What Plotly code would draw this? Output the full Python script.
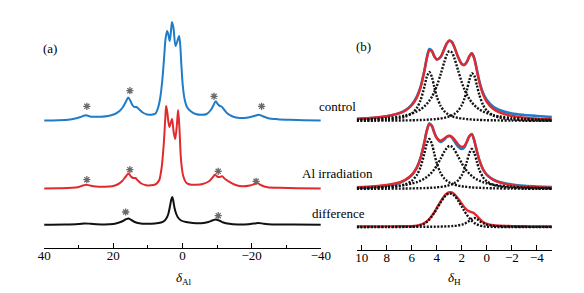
import plotly.graph_objects as go

# ---------------- panel (a): 27Al spectra (ppm, intensity above own baseline) ----------------
al_ctrl_ppm = [40, 36, 33, 31, 29.5, 28.3, 27.6, 26.8, 25.5, 23.5, 21.5, 19.5, 18.2, 17.2, 16.4, 15.7, 15.1,
               14.5, 13.9, 13.3, 12.5, 11.5, 10.2, 9.0, 7.8, 7.0, 6.4, 5.8, 5.3, 4.9, 4.44, 4.05, 3.7, 3.35,
               3.03, 2.6, 2.02, 1.55, 1.3, 0.98, 0.65, 0.3, -0.1, -0.6, -1.3, -2.3, -3.8, -5.5, -7.0, -8.2,
               -9.0, -9.6, -10.3, -10.8, -11.3, -12.0, -13.0, -14.5, -16.5, -19.0, -20.8, -22.0, -23.2,
               -24.8, -27.5, -31, -35, -40]
al_ctrl_int = [0.5, 0.8, 1.3, 2.5, 4, 5.5, 5.6, 4.5, 4.2, 4.3, 5, 7, 10, 14, 19, 23.5, 20.5,
               16, 14, 14, 11.5, 8.5, 6.5, 6.2, 7.5, 14, 24, 42, 64, 82, 90, 86, 80, 89,
               99, 93, 75, 79, 82, 85, 76, 55, 35, 22, 14, 10, 7, 6.2, 7, 11,
               16, 19.7, 16.5, 15, 14.5, 11.5, 7.5, 4.5, 3, 3.5, 5, 6.3, 4.8,
               2.8, 1.8, 1.2, 0.8, 0.5]

al_irr_ppm = [40, 36, 32, 30, 28.8, 27.8, 26.8, 25, 22.5, 20.3, 18.8, 17.5, 16.5, 15.6, 14.9, 14.3, 13.6,
              12.9, 11.9, 10.5, 9.1, 7.9, 7.2, 6.7, 6.04, 5.39, 4.95, 4.72, 4.4, 3.79, 3.03, 2.55, 2.1,
              1.6, 1.26, 0.9, 0.42, -0.22, -1.18, -2.5, -4.0, -5.8, -7.7, -8.7, -9.4, -10.2, -10.8,
              -11.45, -12.3, -13.3, -15, -17.1, -19.5, -20.8, -21.6, -22.6, -24.6, -28, -33, -40]
al_irr_int = [0.5, 0.8, 1.2, 2, 3.5, 4.3, 3.5, 2.5, 2.3, 2.8, 4.5, 7.7, 12, 15.5, 12.5, 11, 11,
              8.5, 5.5, 3.8, 3.7, 4.5, 6.5, 9, 21, 46, 72, 83, 77, 62, 70, 57, 50,
              65, 79, 62, 29, 13, 6, 4.3, 4.3, 5, 7.7, 11.5, 14.3, 12, 12,
              12.7, 10, 7.7, 4.5, 2.7, 3.5, 5, 6, 4, 1.7, 1.2, 0.8, 0.5]

al_diff_ppm = [40, 34, 30, 28.3, 26.5, 23, 20, 18.3, 17.2, 16.3, 15.6, 14.8, 13.8, 12.5, 10.5, 8, 6.2,
               5.3, 4.6, 4.1, 3.6, 3.2, 2.95, 2.7, 2.3, 1.8, 1.2, 0.4, -1, -3, -5.5, -7.5, -8.6, -9.6,
               -10.6, -11.8, -13.5, -16, -19, -21, -22, -23.5, -26, -32, -40]
al_diff_int = [0.3, 0.5, 1, 1.6, 1.2, 0.6, 1, 2.5, 4, 5.8, 6.5, 5, 3, 1.8, 1.2, 1.5, 2.5,
               4, 7, 11, 19, 26, 28, 25, 17, 11, 7, 4.5, 3, 2, 1.8, 3, 4.5, 5.6,
               4.5, 2.5, 1.2, 0.6, 0.8, 1.6, 2, 1.3, 0.6, 0.4, 0.3]

# spinning sidebands (asterisks): ppm and height above each trace's baseline
sb_ctrl_ppm = [27.65, 15.21, -9.12, -22.88]
sb_ctrl_h = [14.7, 30.3, 24.7, 14.7]
sb_irr_ppm = [27.65, 15.21, -10.33, -21.28]
sb_irr_h = [9.3, 19.3, 17.7, 7.7]
sb_diff_ppm = [16.42, -10.33]
sb_diff_h = [13.0, 9.3]

# ---------------- panel (b): 1H spectra with fitted components ----------------
h_ppm = [10.4, 9, 8, 7, 6.5, 6, 5.6, 5.3, 5.0, 4.8, 4.6, 4.4, 4.2, 4.0, 3.7, 3.4, 3.2, 3.0, 2.8, 2.6,
         2.3, 2.0, 1.8, 1.6, 1.4, 1.2, 1.0, 0.8, 0.6, 0.3, 0.0, -0.5, -1, -2, -3, -4, -5.2]

h_ctrl_fit1 = [0.5, 0.9, 1.5, 2.9, 4.4, 7.6, 13, 20.8, 33.9, 44.1, 49, 44.1, 33.9, 24.5, 15.1, 9.8, 7.6, 6,
               4.9, 4, 3.1, 2.5, 2.2, 1.9, 1.7, 1.5, 1.3, 1.2, 1.1, 0.9, 0.8, 0.7, 0.6, 0.4, 0.3, 0.2, 0.2]
h_ctrl_fit2 = [1.4, 2.1, 2.9, 4.4, 5.6, 7.4, 9.5, 11.6, 14.6, 17.1, 20.2, 24.1, 29, 35, 46.4, 59.1, 66.2,
               69.8, 68.6, 63, 50.6, 38.5, 31.8, 26.4, 22, 18.5, 15.7, 13.5, 11.6, 9.5, 7.9, 5.9, 4.6, 3,
               2.1, 1.6, 1.1]
h_ctrl_fit3 = [0.2, 0.3, 0.4, 0.5, 0.6, 0.7, 0.9, 1, 1.1, 1.3, 1.4, 1.6, 1.8, 2, 2.5, 3.2, 3.8, 4.6, 5.6,
               7, 10.3, 16, 22.1, 30.7, 40.9, 47.7, 45.2, 35.8, 26.1, 16, 10.3, 5.6, 3.5, 1.7, 1, 0.6, 0.4]
h_ctrl_sum = [2.1, 3.2, 4.8, 7.8, 10.6, 15.7, 23.4, 33.4, 49.6, 62.5, 70.6, 69.8, 64.7, 61.5, 64, 72.1,
              77.6, 80.4, 79.1, 74, 64, 57, 56.1, 59, 64.6, 67.7, 62.2, 50.5, 38.8, 26.4, 19, 12.2, 8.7,
              5.1, 3.4, 2.4, 1.7]
h_ctrl_exp = [2.1, 3.2, 4.8, 7.8, 10.8, 16.5, 24.5, 34, 50, 63, 72, 70.5, 64.7, 61.5, 64, 72.1,
              77.6, 80.4, 79.1, 74, 64, 57, 56.1, 59, 64.6, 67.7, 62.5, 51.5, 40, 28, 21, 14.5, 11,
              7.5, 6, 5, 4]

h_irr_fit1 = [0.6, 1, 1.6, 3.1, 4.8, 8.2, 13.9, 22, 35.3, 45.3, 50, 45.3, 35.3, 25.8, 16.1, 10.5, 8.2, 6.5,
              5.3, 4.4, 3.4, 2.7, 2.3, 2.1, 1.8, 1.6, 1.4, 1.3, 1.2, 1, 0.9, 0.7, 0.6, 0.4, 0.3, 0.3, 0.2]
h_irr_fit2 = [1, 1.5, 2.1, 3.2, 4.1, 5.4, 6.8, 8.3, 10.3, 12, 14.1, 16.6, 19.7, 23.4, 30.2, 37.3, 41.1, 43,
              42.3, 39.4, 32.6, 25.6, 21.5, 18.1, 15.3, 13, 11.1, 9.6, 8.3, 6.8, 5.7, 4.3, 3.4, 2.2, 1.6,
              1.2, 0.8]
h_irr_fit3 = [0.2, 0.2, 0.3, 0.4, 0.5, 0.6, 0.7, 0.8, 0.9, 1, 1.1, 1.3, 1.4, 1.7, 2, 2.6, 3.1, 3.8, 4.7,
              5.9, 8.7, 13.8, 19.3, 27.1, 35.7, 40, 35.7, 27.1, 19.3, 11.7, 7.6, 4.2, 2.6, 1.3, 0.8, 0.5,
              0.3]
h_irr_sum = [1.7, 2.7, 4, 6.7, 9.4, 14.1, 21.4, 31.1, 46.5, 58.3, 65.2, 63.2, 56.4, 50.9, 48.3, 50.4, 52.4,
             53.3, 52.3, 49.7, 44.7, 42.1, 43.1, 47.3, 52.8, 54.6, 48.2, 38, 28.8, 19.5, 14.2, 9.2, 6.6,
             3.9, 2.6, 1.9, 1.4]
h_irr_exp = [1, 2, 3.2, 6, 9, 14, 21.4, 31.1, 46.5, 58.3, 65.5, 63.2, 56.4, 50.9, 47, 49.5, 52, 53,
             51.5, 48, 42.5, 40, 41.5, 47, 52.8, 55, 48.2, 38, 28.8, 19.5, 14.2, 9.5, 7,
             4.5, 3.2, 2.5, 2]

h_diff_fit1 = [0, 0, 0, 0, 0.1, 0.2, 0.7, 1.6, 3.3, 5, 7.4, 10.5, 14.1, 18.2, 24.5, 30, 32.4, 33.5, 33.1,
               31.3, 26.5, 20.3, 16.1, 12.2, 8.9, 6.1, 4.1, 2.6, 1.6, 0.7, 0.3, 0.1, 0, 0, 0, 0, 0]
h_diff_fit2 = [0, 0.1, 0.1, 0.1, 0.1, 0.1, 0.2, 0.2, 0.2, 0.2, 0.3, 0.3, 0.3, 0.4, 0.4, 0.5, 0.6, 0.7, 0.9,
               1.1, 1.6, 2.4, 3.2, 4.5, 6.2, 8.1, 9, 8.1, 6.2, 3.8, 2.4, 1.2, 0.7, 0.4, 0.2, 0.1, 0.1]
h_diff_sum = [0.5, 0.5, 0.6, 0.7, 0.8, 0.8, 1.4, 2.3, 4, 5.7, 8.2, 11.3, 14.9, 19.1, 25.4, 31, 33.5, 34.7,
              34.5, 32.9, 28.6, 23.2, 19.8, 17.2, 15.6, 14.7, 13.6, 11.2, 8.3, 5, 3.2, 1.7, 1.2, 0.9, 0.7,
              0.6, 0.6]

# ---------------- tick labels and text ----------------
al_ticks = [40, 20, 0, -20, -40]
al_ticktext = ["40", "20", "0", "\u221220", "\u221240"]
al_minor = [30, 10, -10, -30]
h_ticks = [10, 8, 6, 4, 2, 0, -2, -4]
h_ticktext = ["10", "8", "6", "4", "2", "0", "\u22122", "\u22124"]
row_labels = ["control", "Al irradiation", "difference"]

# ---------------- style / layout constants ----------------
BLUE = "#1E7CC8"
RED = "#E02A2E"
BLACK = "#111111"
STAR = "#6a6a6a"
FONT = "Liberation Serif, Times New Roman, serif"
W, H = 584, 293
off_a = [127, 59, 23]   # baselines of the three rows in panel (a)
off_b = [129, 61, 23]   # baselines of the three rows in panel (b)


def shift(vals, off):
    return [v + off for v in vals]


fig = go.Figure()

# panel (a)
for ppm, inten, col, off in [(al_ctrl_ppm, al_ctrl_int, BLUE, off_a[0]),
                             (al_irr_ppm, al_irr_int, RED, off_a[1]),
                             (al_diff_ppm, al_diff_int, BLACK, off_a[2])]:
    fig.add_trace(go.Scatter(x=ppm, y=shift(inten, off), mode="lines",
                             line=dict(color=col, width=2, shape="spline", smoothing=0.8),
                             xaxis="x", yaxis="y", showlegend=False, hoverinfo="skip"))

for sp, sh, off in [(sb_ctrl_ppm, sb_ctrl_h, off_a[0]), (sb_irr_ppm, sb_irr_h, off_a[1]),
                    (sb_diff_ppm, sb_diff_h, off_a[2])]:
    fig.add_trace(go.Scatter(x=sp, y=shift(sh, off), mode="markers",
                             marker=dict(symbol="asterisk-open", size=6, color=STAR,
                                         line=dict(color=STAR, width=1.3)),
                             xaxis="x", yaxis="y", showlegend=False, hoverinfo="skip"))

# panel (b)
DOT = dict(color=BLACK, width=2.4, dash="2px,1.5px", shape="spline", smoothing=0.8)
rows_b = [
    (h_ctrl_exp, h_ctrl_sum, [h_ctrl_fit1, h_ctrl_fit2, h_ctrl_fit3], off_b[0]),
    (h_irr_exp, h_irr_sum, [h_irr_fit1, h_irr_fit2, h_irr_fit3], off_b[1]),
    (None, h_diff_sum, [h_diff_fit1, h_diff_fit2], off_b[2]),
]
for exp, tot, fits, off in rows_b:
    if exp is not None:
        fig.add_trace(go.Scatter(x=h_ppm, y=shift(exp, off), mode="lines",
                                 line=dict(color=BLUE, width=2.6, shape="spline", smoothing=0.8),
                                 xaxis="x2", yaxis="y2", showlegend=False, hoverinfo="skip"))
    fig.add_trace(go.Scatter(x=h_ppm, y=shift(tot, off), mode="lines",
                             line=dict(color=RED, width=2.4, shape="spline", smoothing=0.8),
                             xaxis="x2", yaxis="y2", showlegend=False, hoverinfo="skip"))
    for f in fits:
        fig.add_trace(go.Scatter(x=h_ppm, y=shift(f, off), mode="lines", line=DOT,
                                 xaxis="x2", yaxis="y2", showlegend=False, hoverinfo="skip"))

axis_common = dict(showline=True, linecolor="black", linewidth=1, ticks="inside", ticklen=5,
                   tickcolor="black", tickwidth=1, showgrid=False, zeroline=False,
                   ticklabelstandoff=-5,
                   tickfont=dict(family=FONT, size=13, color="black"))

fig.update_layout(
    width=W, height=H, margin=dict(l=0, r=0, t=0, b=0),
    paper_bgcolor="white", plot_bgcolor="white",
    xaxis=dict(domain=[30 / W, 315 / W], range=[40, -40], tickmode="array", tickvals=al_ticks,
               ticktext=al_ticktext, anchor="y",
               minor=dict(tickvals=al_minor, ticks="inside", ticklen=3, tickcolor="black", showgrid=False),
               **axis_common),
    yaxis=dict(domain=[(H - 240) / H, (H - 10) / H], range=[0, 230], visible=False, anchor="x"),
    xaxis2=dict(domain=[352 / W, 553 / W], range=[10.4, -5.2], tickmode="array", tickvals=h_ticks,
                ticktext=h_ticktext, anchor="y2", **axis_common),
    yaxis2=dict(domain=[(H - 242) / H, (H - 12) / H], range=[0, 230], visible=False, anchor="x2"),
)

tf = dict(family=FONT, size=13, color="black")
annots = [
    dict(text="(a)", x=36 / W, y=1 - 40 / H),
    dict(text="(b)", x=359 / W, y=1 - 39 / H),
    dict(text=row_labels[0], x=332 / W, y=1 - 99 / H),
    dict(text=row_labels[1], x=332 / W, y=1 - 165 / H),
    dict(text=row_labels[2], x=333 / W, y=1 - 205 / H),
    dict(text="<i>δ</i><sub>Al</sub>", x=174 / W, y=1 - 270 / H),
    dict(text="<i>δ</i><sub>H</sub>", x=453 / W, y=1 - 270 / H),
]
for a in annots:
    fig.add_annotation(xref="paper", yref="paper", showarrow=False, font=tf,
                       xanchor="center", yanchor="middle", **a)

fig.write_html("out.html")
